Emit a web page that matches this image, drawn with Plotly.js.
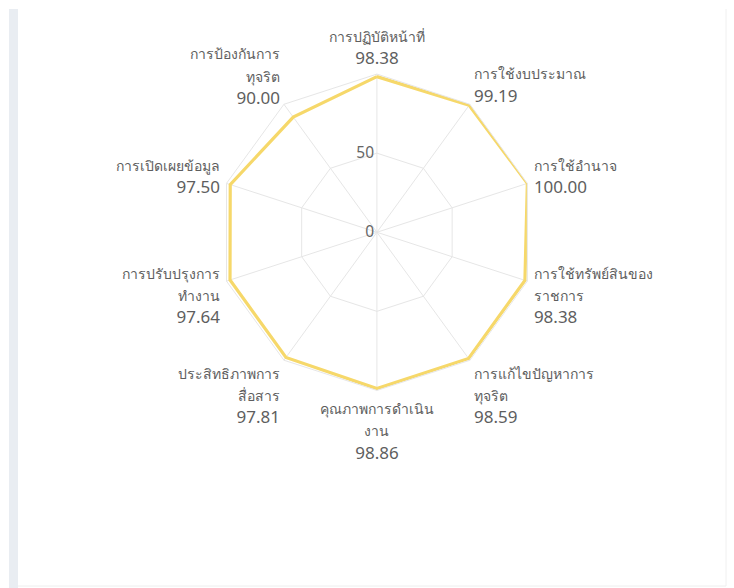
<!DOCTYPE html>
<html>
<head>
<meta charset="utf-8">
<script src="https://cdn.plot.ly/plotly-3.0.1.min.js"></script>
<style>
  html, body { margin: 0; padding: 0; background: #ffffff; }
  #chart { width: 734px; height: 588px; }
</style>
</head>
<body>
<div id="chart"></div>
<script>
// Category names (as wrapped in the reference)
const categoryLines = [
  ["การปฏิบัติหน้าที่"],
  ["การใช้งบประมาณ"],
  ["การใช้อำนาจ"],
  ["การใช้ทรัพย์สินของ", "ราชการ"],
  ["การแก้ไขปัญหาการ", "ทุจริต"],
  ["คุณภาพการดำเนิน", "งาน"],
  ["ประสิทธิภาพการ", "สื่อสาร"],
  ["การปรับปรุงการ", "ทำงาน"],
  ["การเปิดเผยข้อมูล"],
  ["การป้องกันการ", "ทุจริต"]
];
const categories = categoryLines.map(l => l.join(""));
const scores = [98.38, 99.19, 100.00, 98.38, 98.59, 98.86, 97.81, 97.64, 97.50, 90.00];
const radialTicks = [0, 50, 100];
const radialTickText = ["0", "50", ""];

const tickText = categoryLines.map((lines, i) =>
  lines.map(s => "<span style=\"font-size:14px\">" + s + "</span>").join("<br>") +
  "<br>" + scores[i].toFixed(2)
);

const trace = {
  type: "scatterpolar",
  mode: "lines",
  r: scores.concat([scores[0]]),
  theta: categories.concat([categories[0]]),
  line: { color: "rgb(246, 216, 106)", width: 3.2 },
  fill: "none",
  hoverinfo: "skip",
  showlegend: false
};

const layout = {
  width: 734,
  height: 588,
  margin: { l: 0, r: 0, t: 0, b: 0 },
  paper_bgcolor: "#ffffff",
  font: { family: "'Noto Sans', 'DejaVu Sans', sans-serif", color: "#666666", size: 13 },
  showlegend: false,
  polar: {
    domain: { x: [0.298, 0.729], y: [0.334, 0.876] },
    bgcolor: "rgba(0,0,0,0)",
    gridshape: "linear",
    radialaxis: {
      range: [0, 100],
      tickvals: radialTicks,
      ticktext: radialTickText,
      angle: 90,
      tickangle: 90,
      side: "counterclockwise",
      showline: false,
      ticks: "",
      gridcolor: "#e6e6e6",
      gridwidth: 1,
      tickfont: { size: 15.5, color: "#666666" }
    },
    angularaxis: {
      direction: "clockwise",
      rotation: 90,
      categoryorder: "array",
      categoryarray: categories,
      tickvals: categories,
      ticktext: tickText,
      ticks: "outside",
      ticklen: 3,
      tickcolor: "rgba(0,0,0,0)",
      showline: true,
      linecolor: "#e6e6e6",
      linewidth: 1,
      gridcolor: "#e6e6e6",
      gridwidth: 1,
      tickfont: { size: 17, color: "#5e5e5e" }
    }
  },
  shapes: [
    { type: "rect", xref: "paper", yref: "paper", x0: 9/734, x1: 18/734, y0: 0, y1: 1 - 9/588,
      fillcolor: "#e9edf2", line: { width: 0 }, layer: "below" },
    { type: "line", xref: "paper", yref: "paper", x0: 726/734, x1: 726/734, y0: 2/588, y1: 1 - 9/588,
      line: { color: "#f0f0f0", width: 1 }, layer: "below" },
    { type: "line", xref: "paper", yref: "paper", x0: 18/734, x1: 726/734, y0: 2/588, y1: 2/588,
      line: { color: "#eeeeee", width: 1 }, layer: "below" }
  ]
};

Plotly.newPlot("chart", [trace], layout, { displayModeBar: false, staticPlot: true });
</script>
</body>
</html>
